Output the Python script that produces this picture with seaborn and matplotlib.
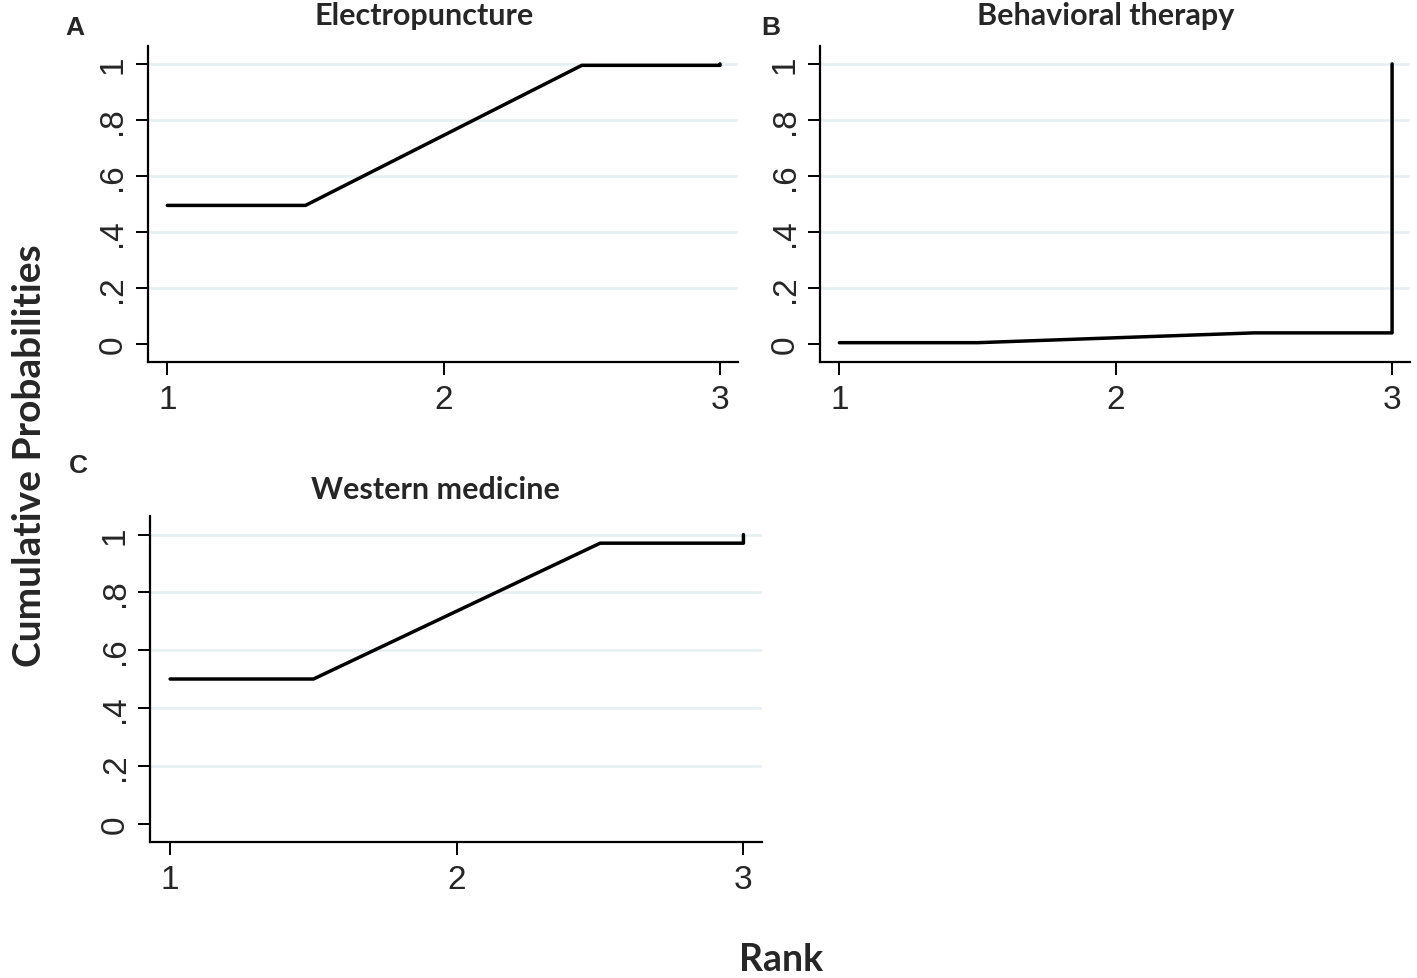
import matplotlib
matplotlib.use("Agg")
import matplotlib.pyplot as plt
import seaborn as sns
import pandas as pd

# values
rank = [1, 1.5, 2.5, 3, 3]
electropuncture = [0.495, 0.495, 0.995, 0.995, 1.0]
behavioral = [0.005, 0.005, 0.04, 0.04, 1.0]
western = [0.5, 0.5, 0.97, 0.97, 1.0]

titles = ['Electropuncture', 'Behavioral therapy', 'Western medicine']
letters = ['A', 'B', 'C']
y_ticks = [0, 0.2, 0.4, 0.6, 0.8, 1]
y_tick_labels = ['0', '.2', '.4', '.6', '.8', '1']
x_ticks = [1, 2, 3]

sns.set_style('white')
plt.rcParams['font.family'] = ['Liberation Sans', 'DejaVu Sans']

fig = plt.figure(figsize=(14.17, 9.79), dpi=100)

# axes boxes [left, bottom, width, height] in figure fractions
boxes = [[0.1044, 0.6292, 0.4164, 0.3228],
         [0.5787, 0.6292, 0.4164, 0.3228],
         [0.1059, 0.1389, 0.4319, 0.3330]]
series = [electropuncture, behavioral, western]

for i in range(3):
    ax = fig.add_axes(boxes[i])
    df = pd.DataFrame({'Rank': rank, 'Prob': series[i]})
    for y in y_ticks[1:]:
        ax.axhline(y, color='#e6eff1', lw=1.8, zorder=0)
    sns.lineplot(x='Rank', y='Prob', data=df, estimator=None, sort=False,
                 color='black', lw=2.5, ax=ax)
    ax.set_xlim(0.93, 3.065)
    ax.set_ylim(-0.064, 1.064)
    ax.set_xticks(x_ticks)
    ax.set_xticklabels([str(t) for t in x_ticks])
    ax.set_yticks(y_ticks)
    ax.set_yticklabels(y_tick_labels, rotation=90, va='center')
    ax.tick_params(axis='both', direction='out', length=9, width=1.4,
                   color='black', labelsize=24, left=True, bottom=True)
    ax.tick_params(axis='x', pad=7)
    ax.tick_params(axis='y', pad=5)
    ax.set_xlabel('')
    ax.set_ylabel('')
    for s in ['top', 'right']:
        ax.spines[s].set_visible(False)
    for s in ['left', 'bottom']:
        ax.spines[s].set_color('black')
        ax.spines[s].set_linewidth(1.6)
    ax.grid(False)

# titles and panel letters
fig.text(0.299, 0.984, titles[0], ha='center', va='center',
         fontsize=22, fontweight='bold', family='Lato')
fig.text(0.780, 0.984, titles[1], ha='center', va='center',
         fontsize=22, fontweight='bold', family='Lato')
fig.text(0.307, 0.499, titles[2], ha='center', va='center',
         fontsize=22, fontweight='bold', family='Lato')
fig.text(0.053, 0.971, letters[0], ha='center', va='center',
         fontsize=19, fontweight='bold', family='Liberation Sans')
fig.text(0.544, 0.971, letters[1], ha='center', va='center',
         fontsize=19, fontweight='bold', family='Liberation Sans')
fig.text(0.055, 0.524, letters[2], ha='center', va='center',
         fontsize=19, fontweight='bold', family='Liberation Sans')

fig.text(0.021, 0.535, 'Cumulative Probabilities', rotation=90,
         ha='center', va='center', fontsize=28, fontweight='bold', family='Lato')
fig.text(0.551, 0.019, 'Rank', ha='center', va='center',
         fontsize=27, fontweight='bold', family='Lato')

fig.savefig('out.png', dpi=100, facecolor='white')
